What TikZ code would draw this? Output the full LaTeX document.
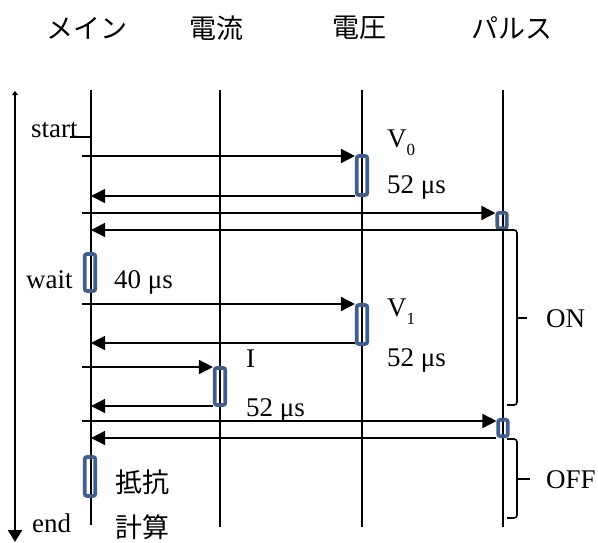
\documentclass[tikz,border=0pt]{standalone}
\usepackage{fontspec}
\setmainfont{Liberation Serif}
\newfontfamily\jp{Noto Sans CJK JP}
\usetikzlibrary{arrows.meta}
\definecolor{boxblue}{HTML}{3F5E8C}
\newcommand{\subnum}[1]{\raisebox{-8pt}{\fontsize{17}{17}\selectfont #1}}
\begin{document}
\begin{tikzpicture}[x=1pt,y=-1pt,
  life/.style={line width=1.4pt},
  msg/.style={line width=1.6pt},
  tip/.style={-{Triangle[length=14pt,width=14pt]}},
  actbox/.style={draw=boxblue,line width=3.6pt,rounded corners=2pt,inner sep=0pt,
                 minimum width=10.5pt,minimum height=39pt},
  pbox/.style={actbox,minimum width=9.5pt,minimum height=15.5pt},
  lbl/.style={inner sep=0pt,anchor=base west,font=\fontsize{27}{30}\selectfont},
  jlbl/.style={inner sep=0pt,font=\jp\fontsize{27}{30}\selectfont},
]
\useasboundingbox (0,0) rectangle (598,542);

% titles
\node[jlbl] (tmain) at (87,28) {メイン};
\node[jlbl] (tcur)  at (216,28) {電流};
\node[jlbl] (tvol)  at (359,28) {電圧};
\node[jlbl] (tpul)  at (512,28) {パルス};

% time axis
\coordinate (axT) at (15,91);
\coordinate (axB) at (15,542);
\draw[line width=2pt,{Triangle[length=4pt,width=6pt]}-{Triangle[length=12pt,width=14pt]}] (axT) -- (axB);

% lifelines
\coordinate (mainT) at (91,90);  \coordinate (mainB) at (91,525);
\coordinate (curT)  at (220,90); \coordinate (curB)  at (220,527);
\coordinate (volT)  at (362,90); \coordinate (volB)  at (362,527);
\coordinate (pulT)  at (503,90); \coordinate (pulB)  at (503,527);
\draw[life] (mainT) -- (mainB);
\draw[life] (curT) -- (curB);
\draw[life] (volT) -- (volB);
\draw[life] (pulT) -- (pulB);

% activation boxes
\node[actbox] (b1) at (362,175.5) {};
\node[pbox]   (p1) at (502,220.5) {};
\node[actbox,minimum height=37pt] (bw) at (90,272.5) {};
\node[actbox] (b2) at (362,324.5) {};
\node[actbox,minimum height=37pt] (bc) at (220,386.5) {};
\node[pbox,minimum height=16.5pt] (p2) at (503,428) {};
\node[actbox] (bk) at (90,476.5) {};

% start stub
\coordinate (st0) at (70,137);
\coordinate (st1) at (91,137);
\draw[msg] (st0) -- (st1);

% messages
\coordinate (m1) at (82,156);
\draw[msg,tip] (m1) -- (m1 -| b1.west);
\coordinate (r1) at (91,196);
\draw[msg,tip] (r1 -| b1.west) -- (r1);

\coordinate (m2) at (82,213);
\draw[msg,tip] (m2) -- (m2 -| p1.west);
\coordinate (ona) at (507,405);
\coordinate (onb) at (517,405);
\coordinate (onc) at (517,230);
\coordinate (r2)  at (91,230);
\draw[msg,tip,rounded corners=3pt] (ona) -- (onb) -- (onc) -- (r2);
\coordinate (onm) at (517,318);
\coordinate (onm2) at (527,318);
\draw[msg] (onm) -- (onm2);

\coordinate (m3) at (82,304);
\draw[msg,tip] (m3) -- (m3 -| b2.west);
\coordinate (r3) at (91,343);
\draw[msg,tip] (r3 -| b2.west) -- (r3);

\coordinate (m4) at (82,367);
\draw[msg,tip] (m4) -- (m4 -| bc.west);
\coordinate (r4) at (91,406);
\draw[msg,tip] (r4 -| bc.west) -- (r4);

\coordinate (m5) at (82,421);
\draw[msg,tip] (m5) -- (m5 -| p2.west);
\coordinate (r5) at (91,438);
\draw[msg,tip] (r5 -| p2.west) -- (r5);

\coordinate (ofa) at (507,439);
\coordinate (ofb) at (517,439);
\coordinate (ofc) at (517,518);
\coordinate (ofd) at (507,518);
\draw[msg,rounded corners=3pt] (ofa) -- (ofb) -- (ofc) -- (ofd);
\coordinate (ofm) at (517,479);
\coordinate (ofm2) at (530,479);
\draw[msg] (ofm) -- (ofm2);

% labels
\node[lbl] (lstart) at (31,137) {start};
\node[lbl] (lv0) at (387,147) {V\subnum{0}};
\node[lbl] (l52a) at (387,193) {52 μs};
\node[lbl] (lwait) at (26,288) {wait};
\node[lbl] (l40) at (114,288) {40 μs};
\node[lbl] (lv1) at (387,316) {V\subnum{1}};
\node[lbl] (l52b) at (387,366) {52 μs};
\node[lbl] (li) at (246,367) {I};
\node[lbl] (l52c) at (246,416) {52 μs};
\node[lbl] (lon) at (546,327) {ON};
\node[lbl] (loff) at (546,488) {OFF};
\node[lbl] (lend) at (32,532) {end};
\node[jlbl] (lk1) at (142,482) {抵抗};
\node[jlbl] (lk2) at (142,527) {計算};
\end{tikzpicture}
\end{document}
